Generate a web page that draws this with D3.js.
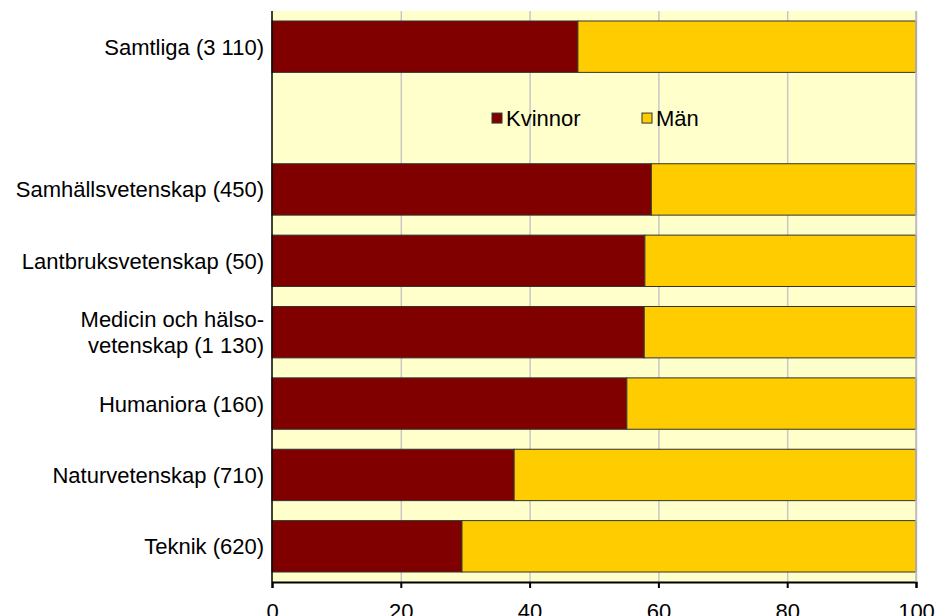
<!DOCTYPE html>
<html><head><meta charset="utf-8">
<script src="https://cdn.jsdelivr.net/npm/d3@7"></script>
<style>body{margin:0;background:#fff}svg{display:block}text{font-family:"Liberation Sans",Arial,sans-serif}</style>
</head><body><svg id="c" width="935" height="616"></svg>
<script>
const categories = ["Samtliga (3 110)", "", "Samhällsvetenskap (450)", "Lantbruksvetenskap (50)", "Medicin och hälso-\nvetenskap (1 130)", "Humaniora (160)", "Naturvetenskap (710)", "Teknik (620)"];
const kvinnor = [47.5, null, 58.9, 57.9, 57.8, 55.1, 37.6, 29.5];
const man = [52.5, null, 41.1, 42.1, 42.2, 44.9, 62.4, 70.5];
const seriesNames = ["Kvinnor", "Män"];
const xTicks = [0, 20, 40, 60, 80, 100];
const colors = ["#800000", "#FFCC00"];

const FS = 22;
const svg = d3.select("#c");
const L = 272, R = 916, T = 11, B = 582;
const x = d3.scaleLinear().domain([0, 100]).range([L, R]);
const y = d3.scaleBand().domain(categories.map((c, i) => i)).range([T, B]).paddingInner(0.28).paddingOuter(0.14);

svg.append("rect").attr("x", L).attr("y", T).attr("width", R - L).attr("height", B - T).attr("fill", "#FFFFCC");
svg.append("g").selectAll("line").data(xTicks.slice(1)).join("line")
  .attr("x1", d => x(d) + 0.5).attr("x2", d => x(d) + 0.5).attr("y1", T).attr("y2", B)
  .attr("stroke", "#C8C8C8").attr("stroke-width", 1.5);

const rows = categories.map((c, i) => ({i, k: kvinnor[i], m: man[i]})).filter(d => d.k != null);
const g = svg.append("g");
g.selectAll("rect.k").data(rows).join("rect").attr("class", "k")
  .attr("x", x(0)).attr("y", d => y(d.i)).attr("width", d => x(d.k) - x(0)).attr("height", y.bandwidth())
  .attr("fill", colors[0]).attr("stroke", "#333").attr("stroke-width", 1);
g.selectAll("rect.m").data(rows).join("rect").attr("class", "m")
  .attr("x", d => x(d.k)).attr("y", d => y(d.i)).attr("width", d => x(d.k + d.m) - x(d.k)).attr("height", y.bandwidth())
  .attr("fill", colors[1]).attr("stroke", "#333").attr("stroke-width", 1);

// category labels
const lab = svg.append("g").attr("font-size", FS).attr("fill", "#000").attr("text-anchor", "end");
categories.forEach((c, i) => {
  if (!c) return;
  const lines = c.split("\n");
  const cy = y(i) + y.bandwidth() / 2;
  const lh = 26;
  lines.forEach((ln, j) => {
    lab.append("text").attr("x", 264).attr("y", cy + (j - (lines.length - 1) / 2) * lh + 8).text(ln);
  });
});

// axes
const xa = svg.append("g").attr("transform", `translate(0,${B})`)
  .call(d3.axisBottom(x).tickValues(xTicks).tickSize(6).tickPadding(0).tickFormat(d3.format("d")));
xa.select(".domain").attr("stroke", "#000").attr("stroke-width", 2);
xa.selectAll(".tick line").attr("stroke", "#000").attr("stroke-width", 2);
xa.selectAll("text").attr("dy", null).attr("y", 37).attr("font-size", FS).attr("fill", "#000").attr("font-family", "Liberation Sans, Arial, sans-serif");
svg.append("line").attr("x1", L).attr("x2", L).attr("y1", T).attr("y2", B).attr("stroke", "#000").attr("stroke-width", 1.5);
svg.append("line").attr("x1", R).attr("x2", R).attr("y1", T).attr("y2", B).attr("stroke", "#BBB").attr("stroke-width", 1.5);

// legend
const ly = y(1) + y.bandwidth() / 2;
const legX = [492, 642];
seriesNames.forEach((n, i) => {
  svg.append("rect").attr("x", legX[i]).attr("y", ly - 5).attr("width", 10).attr("height", 10)
    .attr("fill", colors[i]).attr("stroke", "#333").attr("stroke-width", 1);
  svg.append("text").attr("x", legX[i] + 14).attr("y", ly + 8).attr("font-size", FS).attr("fill", "#000").text(n);
});
</script></body></html>
